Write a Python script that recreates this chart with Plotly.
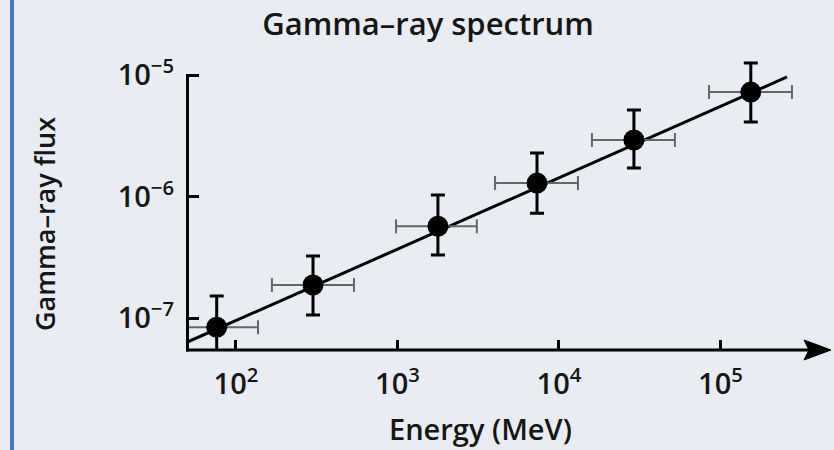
import plotly.graph_objects as go

# ---- data ----
energy = [76, 300, 1780, 7310, 29100, 154000]            # MeV
flux = [8.4e-8, 1.87e-7, 5.7e-7, 1.29e-6, 2.92e-6, 7.24e-6]
energy_lo = [42, 167, 980, 4020, 16000, 84900]
energy_hi = [137, 538, 3100, 13100, 52200, 277000]
flux_lo = [4.8e-8, 1.06e-7, 3.30e-7, 7.3e-7, 1.72e-6, 4.1e-6]
flux_hi = [1.52e-7, 3.24e-7, 1.03e-6, 2.28e-6, 5.15e-6, 1.256e-5]

fit_energy = [50, 258000]
fit_flux = [6.34e-8, 9.64e-6]

x_tickvals = [1e2, 1e3, 1e4, 1e5]
x_ticktext = ["10<sup>2</sup>", "10<sup>3</sup>", "10<sup>4</sup>", "10<sup>5</sup>"]
y_tickvals = [1e-7, 1e-6, 1e-5]
y_ticktext = ["10<sup>\u22127</sup>", "10<sup>\u22126</sup>", "10<sup>\u22125</sup>"]

FONT = "Open Sans"
INK = "#161616"
BG = "#e9edf3"

fig = go.Figure()

fig.add_trace(go.Scatter(
    x=fit_energy, y=fit_flux, mode="lines",
    line=dict(color="black", width=3), hoverinfo="skip", showlegend=False))

fig.add_trace(go.Scatter(
    x=energy, y=flux, mode="markers",
    marker=dict(color="black", size=21),
    error_y=dict(type="data", symmetric=False,
                 array=[h - v for h, v in zip(flux_hi, flux)],
                 arrayminus=[v - l for v, l in zip(flux, flux_lo)],
                 color="black", thickness=3, width=7),
    error_x=dict(type="data", symmetric=False,
                 array=[h - v for h, v in zip(energy_hi, energy)],
                 arrayminus=[v - l for v, l in zip(energy, energy_lo)],
                 color="#666666", thickness=2, width=7),
    showlegend=False))

L, R, T, B = 187, 19, 55, 100
W, H = 834, 450
pw, ph = W - L - R, H - T - B

def px_x(p):
    return (p - L) / pw

def px_y(p):
    return (H - B - p) / ph

fig.update_layout(
    width=W, height=H,
    margin=dict(l=L, r=R, t=T, b=B),
    paper_bgcolor=BG, plot_bgcolor=BG,
    font=dict(family=FONT, color=INK),
    title=dict(text="Gamma\u2013ray spectrum", x=428 / W, xref="container", xanchor="center",
               y=1 - 24 / H, yref="container", yanchor="middle",
               font=dict(family=FONT, size=31, color=INK, weight=600)),
    xaxis=dict(type="log", range=[1.697, 5.585], tickvals=x_tickvals, ticktext=x_ticktext,
               ticks="inside", ticklen=10, tickwidth=2.5, tickcolor="black",
               showgrid=False, zeroline=False, showline=False,
               ticklabelstandoff=14,
               tickfont=dict(family=FONT, size=29, color=INK, weight=600)),
    yaxis=dict(type="log", range=[-7.263, -4.835], tickvals=y_tickvals, ticktext=y_ticktext,
               ticks="inside", ticklen=12, tickwidth=2.5, tickcolor="black",
               showgrid=False, zeroline=False, showline=False,
               ticklabelstandoff=12,
               tickfont=dict(family=FONT, size=29, color=INK, weight=600)),
    shapes=[
        # left blue frame line
        dict(type="line", xref="paper", yref="paper", x0=px_x(12), x1=px_x(12),
             y0=px_y(-5), y1=px_y(455), line=dict(color="#4a78bd", width=4)),
        # y axis line up to 10^-5
        dict(type="line", xref="paper", yref="paper", x0=px_x(187.5), x1=px_x(187.5),
             y0=px_y(351.5), y1=px_y(74), line=dict(color="black", width=3)),
        # x axis line
        dict(type="line", xref="paper", yref="paper", x0=px_x(186), x1=px_x(812),
             y0=0, y1=0, line=dict(color="black", width=3)),
        # arrow head
        dict(type="path", xref="paper", yref="paper",
             path=f"M {px_x(831)},{px_y(350)} L {px_x(804)},{px_y(340)} L {px_x(809)},{px_y(350)} "
                  f"L {px_x(804)},{px_y(360)} Z",
             fillcolor="black", line=dict(color="black", width=1)),
    ],
    annotations=[
        dict(text="Gamma\u2013ray flux", xref="paper", yref="paper", x=px_x(44), y=px_y(224),
             textangle=-90, showarrow=False, xanchor="center", yanchor="middle",
             font=dict(family=FONT, size=27, color=INK, weight=600)),
        dict(text="Energy (MeV)", xref="paper", yref="paper", x=px_x(480), y=px_y(428),
             showarrow=False, xanchor="center", yanchor="middle",
             font=dict(family=FONT, size=29, color=INK, weight=600)),
    ],
)

fig.write_html("out.html")
